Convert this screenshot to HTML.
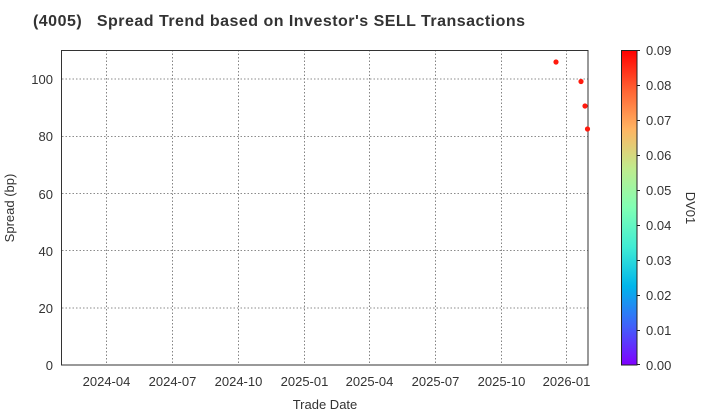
<!DOCTYPE html><html><head><style>body{margin:0;background:#fff}svg{display:block}text{font-family:"Liberation Sans",Arial,sans-serif;fill:#333}</style></head><body>
<svg width="720" height="420" viewBox="0 0 720 420">
<defs><linearGradient id="g" x1="0" y1="1" x2="0" y2="0">
<stop offset="0" stop-color="#8000ff"/><stop offset="0.125" stop-color="#4062fa"/><stop offset="0.25" stop-color="#00b5eb"/><stop offset="0.375" stop-color="#40ecd4"/><stop offset="0.5" stop-color="#80ffb4"/><stop offset="0.625" stop-color="#c0eb8d"/><stop offset="0.75" stop-color="#ffb462"/><stop offset="0.875" stop-color="#ff6232"/><stop offset="1" stop-color="#ff0000"/></linearGradient></defs>
<text x="33" y="26" font-size="16" font-weight="bold" fill="#222" textLength="492" lengthAdjust="spacing">(4005)&#160;&#160;&#160;Spread Trend based on Investor's SELL Transactions</text>
<g stroke="#666" stroke-dasharray="1.5,2" stroke-width="0.8">
<line x1="106.5" y1="50" x2="106.5" y2="365"/><line x1="172.5" y1="50" x2="172.5" y2="365"/><line x1="238.5" y1="50" x2="238.5" y2="365"/><line x1="304.5" y1="50" x2="304.5" y2="365"/><line x1="369.5" y1="50" x2="369.5" y2="365"/><line x1="435.5" y1="50" x2="435.5" y2="365"/><line x1="501.5" y1="50" x2="501.5" y2="365"/><line x1="566.5" y1="50" x2="566.5" y2="365"/>
<line x1="62" y1="79" x2="588" y2="79"/><line x1="62" y1="136.5" x2="588" y2="136.5"/><line x1="62" y1="193.5" x2="588" y2="193.5"/><line x1="62" y1="250.5" x2="588" y2="250.5"/><line x1="62" y1="308" x2="588" y2="308"/>
</g>
<rect x="61.5" y="50.5" width="526.5" height="314.5" fill="none" stroke="#333" stroke-width="1"/>
<g font-size="13" text-anchor="end"><text x="53" y="370">0</text><text x="53" y="313">20</text><text x="53" y="256">40</text><text x="53" y="199">60</text><text x="53" y="141">80</text><text x="53" y="84">100</text></g>
<g font-size="13" text-anchor="middle"><text x="106.5" y="386">2024-04</text><text x="172.5" y="386">2024-07</text><text x="238.5" y="386">2024-10</text><text x="304.5" y="386">2025-01</text><text x="369.5" y="386">2025-04</text><text x="435.5" y="386">2025-07</text><text x="501.5" y="386">2025-10</text><text x="566.5" y="386">2026-01</text></g>
<text x="325" y="409" font-size="13" text-anchor="middle">Trade Date</text>
<text transform="translate(14,208) rotate(-90)" font-size="13" text-anchor="middle">Spread (bp)</text>
<g fill="#ff1a0d"><circle cx="556" cy="62" r="2.6"/><circle cx="581" cy="81.5" r="2.6"/><circle cx="585" cy="106" r="2.6"/><circle cx="587.5" cy="129" r="2.6"/></g>
<rect x="621.5" y="50.5" width="15.5" height="314.5" fill="url(#g)" stroke="#222" stroke-width="1"/>
<g stroke="#222"><line x1="637" y1="50.5" x2="640" y2="50.5"/><line x1="637" y1="85.5" x2="640" y2="85.5"/><line x1="637" y1="120.5" x2="640" y2="120.5"/><line x1="637" y1="155.5" x2="640" y2="155.5"/><line x1="637" y1="190.5" x2="640" y2="190.5"/><line x1="637" y1="225.5" x2="640" y2="225.5"/><line x1="637" y1="260.5" x2="640" y2="260.5"/><line x1="637" y1="295.5" x2="640" y2="295.5"/><line x1="637" y1="330.5" x2="640" y2="330.5"/><line x1="637" y1="364.5" x2="640" y2="364.5"/></g>
<g font-size="13"><text x="646" y="55">0.09</text><text x="646" y="90">0.08</text><text x="646" y="125">0.07</text><text x="646" y="160">0.06</text><text x="646" y="195">0.05</text><text x="646" y="230">0.04</text><text x="646" y="265">0.03</text><text x="646" y="300">0.02</text><text x="646" y="335">0.01</text><text x="646" y="370">0.00</text></g>
<text transform="translate(686,208) rotate(90)" font-size="13" text-anchor="middle">DV01</text>
</svg></body></html>
